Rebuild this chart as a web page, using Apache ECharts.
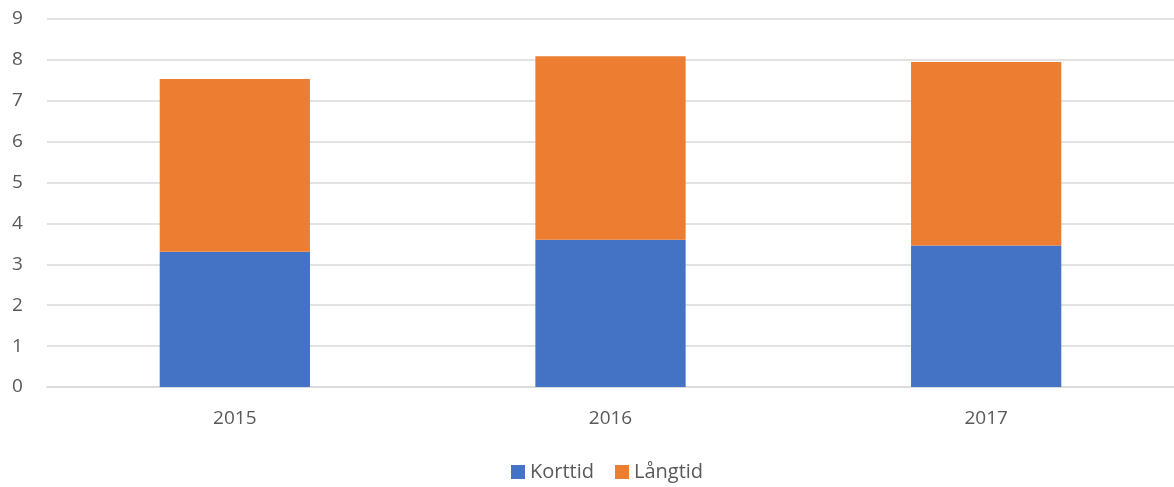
<!DOCTYPE html>
<html><head><meta charset="utf-8">
<script src="https://cdn.jsdelivr.net/npm/echarts@6/dist/echarts.min.js"></script>
<style>html,body{margin:0;padding:0;background:#fff}#c{width:1174px;height:487px}</style>
</head><body><div id="c"></div>
<script>
const categories = ['2015', '2016', '2017'];
const korttid = [3.31, 3.60, 3.46];
const langtid = [4.22, 4.49, 4.49];
const yTicks = [0, 1, 2, 3, 4, 5, 6, 7, 8, 9];

const chart = echarts.init(document.getElementById('c'));
const font = '"Open Sans", "Liberation Sans", sans-serif';
chart.setOption({
  animation: false,
  textStyle: { fontFamily: font },
  grid: { left: 47, right: 0, top: 19, bottom: 100 },
  legend: {
    top: 457, left: 506, itemWidth: 14, itemHeight: 14, itemGap: 21,
    icon: 'rect',
    textStyle: { fontSize: 20, color: '#595959', fontFamily: font },
    data: ['Korttid', 'Långtid']
  },
  xAxis: {
    type: 'category', data: categories,
    axisLine: { lineStyle: { color: '#d9d9d9', width: 1.5 } },
    axisTick: { show: false },
    axisLabel: { fontSize: 19, color: '#595959', margin: 22 }
  },
  yAxis: {
    type: 'value', min: yTicks[0], max: yTicks[yTicks.length - 1], interval: 1,
    axisLine: { show: false }, axisTick: { show: false },
    axisLabel: { fontSize: 19, color: '#595959', margin: 35, align: 'left' },
    splitLine: { lineStyle: { color: '#d9d9d9', width: 1.5 } }
  },
  series: [
    { name: 'Korttid', type: 'bar', stack: 't', data: korttid, barWidth: '40%',
      itemStyle: { color: '#4472c4' } },
    { name: 'Långtid', type: 'bar', stack: 't', data: langtid, barWidth: '40%',
      itemStyle: { color: '#ed7d31' } }
  ]
});
</script></body></html>
